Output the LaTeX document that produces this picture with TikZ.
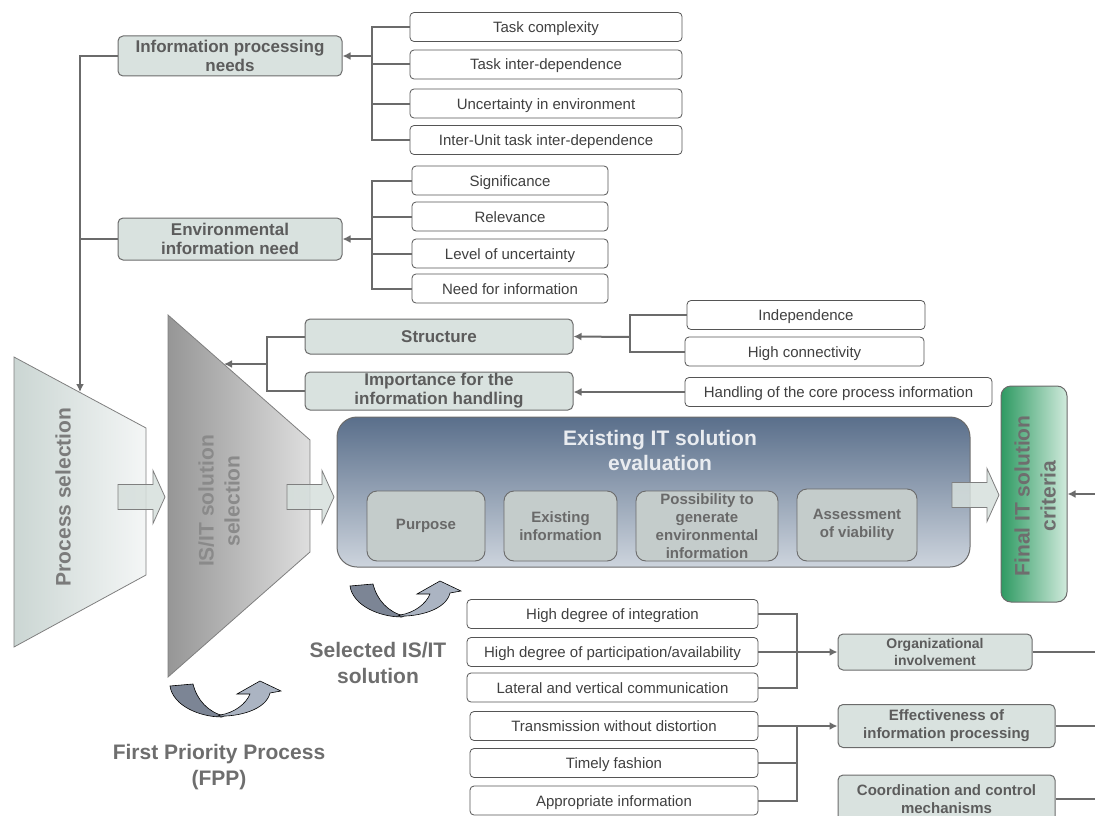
\documentclass[tikz,border=0pt]{standalone}
\usepackage{fontspec}
\setmainfont{Liberation Sans}
\usepackage{xcolor}
\usetikzlibrary{arrows.meta}

\definecolor{linegray}{HTML}{6B6B6B}
\definecolor{leafline}{HTML}{555555}
\definecolor{leaftext}{HTML}{404040}
\definecolor{headfill}{HTML}{D9E2DF}
\definecolor{headtext}{HTML}{5C5C5C}
\definecolor{trapline}{HTML}{7F7F7F}
\definecolor{psleft}{HTML}{CBD6D3}
\definecolor{psright}{HTML}{F4F6F6}
\definecolor{isleft}{HTML}{969696}
\definecolor{isright}{HTML}{DEDEDE}
\definecolor{pstext}{HTML}{7B7B7B}
\definecolor{istext}{HTML}{8A8A8A}
\definecolor{evaltop}{HTML}{5A6F8B}
\definecolor{evalbot}{HTML}{CDD4DD}
\definecolor{evaltext}{HTML}{E9ECF0}
\definecolor{innerfill}{HTML}{C4CCCB}
\definecolor{innertext}{HTML}{696969}
\definecolor{finleft}{HTML}{2E9A62}
\definecolor{finright}{HTML}{D0EADC}
\definecolor{fintext}{HTML}{6E6E6E}
\definecolor{titletext}{HTML}{6E6E6E}
\definecolor{arrowfill}{HTML}{D6DFDC}
\definecolor{uleft}{HTML}{7C8595}
\definecolor{uright}{HTML}{ABB4C2}

\tikzset{
	leaf/.style={draw=leafline, line width=0.8pt, rounded corners=4pt, fill=white,
		text=leaftext, minimum height=29pt, inner sep=0pt, text height=11pt, text depth=0pt,
		font=\fontsize{15}{17}\selectfont},
	head/.style={draw=linegray, line width=1pt, rounded corners=5pt, fill=headfill,
		text=headtext, align=center, inner sep=0pt, font=\bfseries\fontsize{17}{19}\selectfont},
	smallhead/.style={head, font=\bfseries\fontsize{15}{18}\selectfont},
	inner/.style={draw=linegray, line width=0.9pt, rounded corners=10pt, fill=innerfill,
		text=innertext, align=center, inner sep=0pt, minimum height=70pt,
		font=\bfseries\fontsize{15}{18}\selectfont},
	bigtitle/.style={align=center, font=\bfseries\fontsize{21}{26}\selectfont},
	link/.style={draw=linegray, line width=2pt},
	linkarrow/.style={link, -{Latex[length=8pt,width=8pt]}},
	pics/fatarrow/.style={code={
			\draw[draw=trapline, line width=0.8pt, fill=arrowfill, fill opacity=0.85]
			(0,-12.5) -- (35,-12.5) -- (35,-26.5) -- (47,0) -- (35,26.5) -- (35,12.5) -- (0,12.5) -- cycle;
	}},
	pics/uturn/.style={code={
			\draw[line width=0.6pt, fill=uleft]
			(10,16) -- (33,14) .. controls (37,30) and (48,42) .. (64,46)
			-- (62,47) .. controls (40,47) and (13,36) .. (10,16) -- cycle;
			\draw[line width=0.6pt, fill=uright]
			(58,46) .. controls (78,47) and (106,40) .. (110,23) -- (121,21) -- (100,11)
			-- (77,24) -- (90,24) .. controls (86,34) and (74,43) .. (60,45) -- cycle;
	}}
}

\begin{document}
\begin{tikzpicture}[x=1pt,y=-1pt]
	\useasboundingbox (0,0) rectangle (1095,816);
	
	% selection funnels
	\shadedraw[draw=trapline, line width=0.8pt, left color=psleft, right color=psright]
	(14,357) -- (146,428) -- (146,575) -- (14,647) -- cycle;
	\coordinate (psTop) at (80,392);
	\node[bigtitle, rotate=90, text=pstext] (pstitle) at (63,497) {Process selection};
	
	\shadedraw[draw=trapline, line width=0.8pt, left color=isleft, right color=isright]
	(168,315) -- (310,440) -- (310,552) -- (168,677) -- cycle;
	\coordinate (isTop) at (224,364);
	\node[bigtitle, rotate=90, text=istext] (istitle) at (219,501) {IS/IT solution\\selection};
	
	% information needs
	\node[head, minimum width=224pt, minimum height=40pt] (ipn) at (230,56) {Information processing\\needs};
	\node[head, minimum width=224pt, minimum height=42pt] (ein) at (230,239) {Environmental\\information need};
	
	\foreach \n/\y/\t in {tc/27/Task complexity, tid/64.5/Task inter-dependence,
		unc/103.5/Uncertainty in environment, iu/140/Inter-Unit task inter-dependence}
	\node[leaf, minimum width=272pt] (\n) at (546,\y) {\t};
	
	\foreach \n/\y/\t in {sig/180.5/Significance, rel/216.5/Relevance,
		lou/253.5/Level of uncertainty, nfi/288.5/Need for information}
	\node[leaf, minimum width=196pt] (\n) at (510,\y) {\t};
	
	\coordinate (ipnJ) at (372,56);
	\draw[link] (tc.west) -| (ipnJ) |- (iu.west);
	\draw[link] (tid.west) -- (tid.west -| ipnJ);
	\draw[link] (unc.west) -- (unc.west -| ipnJ);
	\draw[linkarrow] (ipnJ) -- (ipn.east);
	
	\coordinate (einJ) at (372,239);
	\draw[link] (sig.west) -| (einJ) |- (nfi.west);
	\draw[link] (rel.west) -- (rel.west -| einJ);
	\draw[link] (lou.west) -- (lou.west -| einJ);
	\draw[linkarrow] (einJ) -- (ein.east);
	
	\draw[linkarrow] (ipn.west) -| (psTop);
	\draw[link] (ein.west) -- (ein.west -| psTop);
	
	% structure and importance
	\node[head, minimum width=268pt, minimum height=35pt] (struct) at (439,336.5) {Structure};
	\node[head, minimum width=268pt, minimum height=38pt] (imp) at (439,391) {Importance for the\\information handling};
	\node[leaf, minimum width=238pt] (indep) at (806,315) {Independence};
	\node[leaf, minimum width=239pt] (hcon) at (804.5,351.5) {High connectivity};
	\node[leaf, minimum width=307pt] (core) at (838.5,392) {Handling of the core process information};
	
	\coordinate (strJ) at (630,337);
	\draw[link] (indep.west) -| (strJ) |- (hcon.west);
	\draw[linkarrow] (strJ) -- (struct.east);
	\draw[linkarrow] (core.west) -- (core.west -| imp.east);
	
	\coordinate (selJ) at (267,364);
	\draw[link] (struct.west) -| (selJ) |- (imp.west);
	\draw[linkarrow] (selJ) -- (isTop);
	
	% evaluation
	\node[draw=linegray, line width=1pt, rounded corners=20pt, top color=evaltop, bottom color=evalbot,
	minimum width=633pt, minimum height=150pt] (eval) at (653.5,492) {};
	\node[bigtitle, text=evaltext, font=\bfseries\fontsize{21}{25}\selectfont] (evaltitle) at (660,450) {Existing IT solution\\evaluation};
	\node[inner, minimum width=118pt] (purp) at (426,526) {Purpose};
	\node[inner, minimum width=113pt] (exinf) at (560.5,526) {Existing\\information};
	\node[inner, minimum width=142pt] (poss) at (707,526) {Possibility to\\generate\\environmental\\information};
	\node[inner, minimum width=120pt, minimum height=72pt] (assess) at (857,525) {Assessment\\of viability};
	
	\node[draw=linegray, line width=1pt, rounded corners=10pt, left color=finleft, right color=finright,
	minimum width=66pt, minimum height=216pt] (fin) at (1034,494) {};
	\node[bigtitle, rotate=90, text=fintext] (fintitle) at (1035,496) {Final IT solution\\criteria};
	\coordinate (finIn) at (1100,494);
	\draw[linkarrow] (finIn) -- (fin.east);
	
	\pic at (118,497) {fatarrow};
	\pic at (287,497) {fatarrow};
	\pic at (952,495) {fatarrow};
	
	\pic at (340,570) {uturn};
	\pic at (160,670) {uturn};
	
	\node[bigtitle, text=titletext] (selsol) at (378,663) {Selected IS/IT\\solution};
	\node[bigtitle, text=titletext] (fpp) at (219,767) {First Priority Process\\(FPP)};
	
	% organizational involvement
	\foreach \n/\y/\t in {hdi/614/High degree of integration,
		hdp/652/{High degree of participation/availability},
		lvc/687.5/Lateral and vertical communication}
	\node[leaf, minimum width=291pt] (\n) at (612.5,\y) {\t};
	\node[smallhead, font=\bfseries\fontsize{14}{17}\selectfont, minimum width=194pt, minimum height=36pt] (org) at (935,652) {Organizational\\involvement};
	
	\coordinate (orgJ) at (797,652);
	\draw[link] (hdi.east) -| (orgJ) |- (lvc.east);
	\draw[linkarrow] (hdp.east) -- (org.west);
	
	% effectiveness
	\foreach \n/\y/\t in {twd/726/Transmission without distortion, tf/763/Timely fashion,
		ai/800.5/Appropriate information}
	\node[leaf, minimum width=288pt] (\n) at (614,\y) {\t};
	\node[smallhead, minimum width=217pt, minimum height=43pt] (eff) at (946.5,726) {Effectiveness of\\information processing};
	\node[smallhead, minimum width=217pt, minimum height=48pt] (coord) at (946.5,799) {Coordination and control\\mechanisms};
	
	\coordinate (effJ) at (797,726);
	\draw[linkarrow] (twd.east) -- (eff.west);
	\draw[link] (tf.east) -- (tf.east -| effJ);
	\draw[link] (ai.east) -| (effJ);
	
	\coordinate (orgOut) at (1100,652);
	\coordinate (effOut) at (1100,726);
	\coordinate (coordOut) at (1100,799);
	\draw[link] (org.east) -- (orgOut);
	\draw[link] (eff.east) -- (effOut);
	\draw[link] (coord.east) -- (coordOut);
	
\end{tikzpicture}
\end{document}
